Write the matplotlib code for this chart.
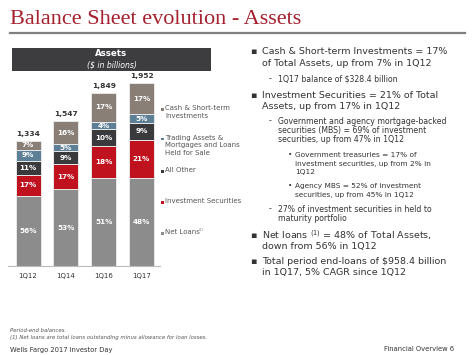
import numpy as np
import matplotlib
matplotlib.use("Agg")
import matplotlib.pyplot as plt
from matplotlib.patches import Rectangle
from matplotlib.lines import Line2D

# data
quarters = ["1Q12", "1Q14", "1Q16", "1Q17"]
totals = [1334, 1547, 1849, 1952]
net_loans = [56, 53, 51, 48]
inv_sec = [17, 17, 18, 21]
all_other = [11, 9, 10, 9]
trading = [9, 5, 4, 5]
cash = [7, 16, 17, 17]

series = [net_loans, inv_sec, all_other, trading, cash]
colors = ["#8c8c8c", "#c0111f", "#3a3a3c", "#5d7f96", "#8a7f77"]

W, H = 474, 355
RED = "#a4202e"
TXT = "#333333"


def px(x, y):
    return x / W, 1 - y / H


fig = plt.figure(figsize=(W / 100, H / 100), dpi=100)
fig.patch.set_facecolor("white")

# title + rule
fig.text(*px(10, 19), "Balance Sheet evolution - Assets", family="Liberation Serif",
         fontsize=16, color=RED, va="center", ha="left")
fig.add_artist(Line2D([10 / W, 465 / W], [1 - 33 / H, 1 - 33 / H], color="#808080", lw=1.6))

# header box
x0, y0 = px(12, 71)
fig.add_artist(Rectangle((x0, y0), 199 / W, 23 / H, facecolor="#3d3d40", edgecolor="none"))
fig.text(*px(111.5, 54), "Assets", color="white", fontsize=6.2, weight="bold", ha="center", va="center")
fig.text(*px(111.5, 65), "($ in billions)", color="white", fontsize=5.6, style="italic", ha="center", va="center")

# bar axes
ax_top, ax_bot = 80, 266
ax = fig.add_axes([8 / W, 1 - ax_bot / H, 152 / W, (ax_bot - ax_top) / H])
x = np.arange(len(quarters))
bottom = np.zeros(len(quarters))
for vals, col in zip(series, colors):
    h = np.array(vals) / 100 * np.array(totals)
    ax.bar(x, h, bottom=bottom, width=0.66, color=col, edgecolor="#e8e8e8", linewidth=0.7)
    for xi, hi, bi, v in zip(x, h, bottom, vals):
        ax.text(xi, bi + hi / 2, f"{v}%", color="white", fontsize=5.2, weight="bold",
                ha="center", va="center")
    bottom += h
for xi, t in zip(x, totals):
    ax.text(xi, t + 40, f"{t:,}", color=TXT, fontsize=5.4, weight="bold", ha="center", va="bottom")

ax.set_xlim(-0.53, 3.49)
ax.set_ylim(0, 186 / 183 * 1952)
for s in ["top", "right", "left"]:
    ax.spines[s].set_visible(False)
ax.spines["bottom"].set_color("#bbbbbb")
ax.set_yticks([])
ax.set_xticks(x)
ax.set_xticklabels(quarters, fontsize=5.0, color=TXT)
ax.tick_params(axis="x", length=0, pad=5)
ax.patch.set_alpha(0)

# legend
leg_items = [("Cash & Short-term\nInvestments", colors[4], 109),
             ("Trading Assets &\nMortgages and Loans\nHeld for Sale", colors[3], 139),
             ("All Other", colors[2], 171),
             ("Investment Securities", colors[1], 202),
             ("Net Loans", colors[0], 233)]
for name, col, ly in leg_items:
    fig.add_artist(Rectangle(px(161, ly + 1.5), 2.5 / W, 2.5 / H, facecolor=col, edgecolor="none"))
    fig.text(*px(165, ly - 4), name, fontsize=5.0, color="#555555", ha="left", va="top", linespacing=1.3)
fig.text(*px(199, 230), "(1)", fontsize=2.8, color="#888888", ha="left", va="center")

# right-hand bullets
lines = [
    (0, 52, "Cash & Short-term Investments = 17%", True),
    (0, 63, "of Total Assets, up from 7% in 1Q12", False),
    (1, 79, "1Q17 balance of $328.4 billion", True),
    (0, 95, "Investment Securities = 21% of Total", True),
    (0, 106, "Assets, up from 17% in 1Q12", False),
    (1, 121, "Government and agency mortgage-backed", True),
    (1, 131, "securities (MBS) = 69% of investment", False),
    (1, 140, "securities, up from 47% in 1Q12", False),
    (2, 155, "Government treasuries = 17% of", True),
    (2, 164, "investment securities, up from 2% in", False),
    (2, 172, "1Q12", False),
    (2, 186, "Agency MBS = 52% of investment", True),
    (2, 195, "securities, up from 45% in 1Q12", False),
    (1, 209, "27% of investment securities in held to", True),
    (1, 219, "maturity portfolio", False),
    (0, 235, "Net loans $^{(1)}$ = 48% of Total Assets,", True),
    (0, 246, "down from 56% in 1Q12", False),
    (0, 262, "Total period end-loans of $958.4 billion", True),
    (0, 273, "in 1Q17, 5% CAGR since 1Q12", False),
]
text_x = [262, 278, 295]
mark_x = [250, 269, 288]
marks = ["\u25aa", "-", "\u2022"]
sizes = [6.8, 5.6, 5.3]
for lvl, ly, s, first in lines:
    s = s.replace("$958", r"\$958").replace("$328", r"\$328")
    fig.text(*px(text_x[lvl], ly), s, fontsize=sizes[lvl], color=TXT, ha="left", va="center")
    if first:
        fig.text(*px(mark_x[lvl], ly), marks[lvl], fontsize=sizes[lvl], color=TXT, ha="left", va="center")

# footer
fig.text(*px(10, 330), "Period-end balances.", fontsize=3.9, style="italic", color="#555555", va="center")
fig.text(*px(10, 337), "(1) Net loans are total loans outstanding minus allowance for loan losses.",
         fontsize=3.9, style="italic", color="#555555", va="center")
fig.text(*px(10, 350), "Wells Fargo 2017 Investor Day", fontsize=4.9, color=TXT, va="center")
fig.text(*px(454, 349), "Financial Overview 6", fontsize=4.9, color=TXT, va="center", ha="right")

fig.savefig("out.png", dpi=100)
